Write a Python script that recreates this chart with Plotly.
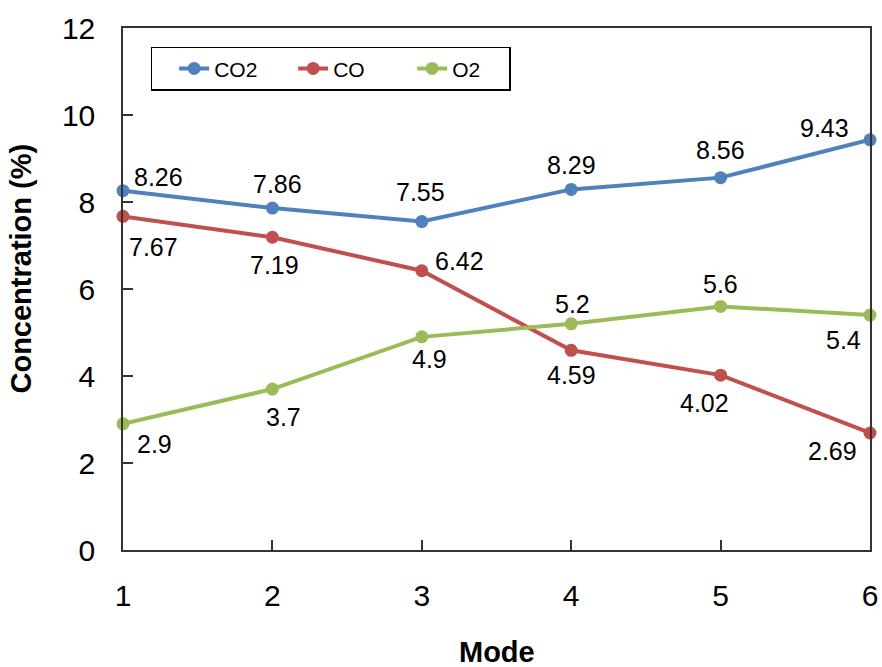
import plotly.graph_objects as go

# Gas concentration by operating mode
modes = [1, 2, 3, 4, 5, 6]
co2 = [8.26, 7.86, 7.55, 8.29, 8.56, 9.43]
co = [7.67, 7.19, 6.42, 4.59, 4.02, 2.69]
o2 = [2.9, 3.7, 4.9, 5.2, 5.6, 5.4]

series = [
    ("CO2", co2, "#4F81BD"),
    ("CO", co, "#C0504D"),
    ("O2", o2, "#9BBB59"),
]

# Pixel offsets for each value label (dx, dy), dy positive = upward
label_offsets = {
    "CO2": [(35, 14), (5, 24), (-1, 30), (0, 24), (0, 28), (-46, 12)],
    "CO": [(30, -31), (2, -28), (38, 10), (0, -25), (-16, -28), (-38, -18)],
    "O2": [(31, -20), (11, -28), (8, -22), (1, 20), (0, 22), (-27, -25)],
}

FONT = "Arial, Liberation Sans, sans-serif"

fig = go.Figure()
annotations = []
for name, vals, color in series:
    fig.add_trace(go.Scatter(
        x=modes, y=vals, name=name, mode="lines+markers",
        line=dict(color=color, width=4),
        marker=dict(color=color, size=13),
        cliponaxis=False,
    ))
    for xv, yv, (dx, dy) in zip(modes, vals, label_offsets[name]):
        annotations.append(dict(
            x=xv, y=yv, xref="x", yref="y", text=f"{yv:g}",
            showarrow=False, xshift=dx, yshift=dy,
            font=dict(family=FONT, size=25, color="#000000"),
        ))

annotations.append(dict(
    x=-0.136, y=0.54, xref="paper", yref="paper",
    text="<b>Concentration (%)</b>", textangle=-90, showarrow=False,
    xanchor="center", yanchor="middle",
    font=dict(family=FONT, size=29, color="#000000"),
))
annotations.append(dict(
    x=0.5, y=-0.195, xref="paper", yref="paper",
    text="<b>Mode</b>", showarrow=False,
    xanchor="center", yanchor="middle",
    font=dict(family=FONT, size=29, color="#000000"),
))

axis_common = dict(
    showline=True, linecolor="#333333", linewidth=1.5, mirror=True,
    ticks="inside", ticklen=10, tickwidth=1.5, tickcolor="#333333",
    showgrid=False, zeroline=False, automargin=False,
    tickfont=dict(family=FONT, size=30, color="#000000"),
)

fig.update_layout(
    width=882, height=667,
    margin=dict(l=123, r=12, t=28, b=117),
    paper_bgcolor="white", plot_bgcolor="white",
    xaxis=dict(range=[1, 6], tickvals=modes, ticklabelstandoff=18, **axis_common),
    yaxis=dict(range=[0, 12], dtick=2, ticklabelstandoff=20, **axis_common),
    legend=dict(
        orientation="h", x=0.037, y=0.964, xanchor="left", yanchor="top",
        bordercolor="#000000", borderwidth=1.5, bgcolor="white",
        font=dict(family=FONT, size=21, color="#000000"),
        entrywidth=52, entrywidthmode="pixels", indentation=22,
    ),
    annotations=annotations,
    showlegend=True,
)

fig.write_html("out.html")
